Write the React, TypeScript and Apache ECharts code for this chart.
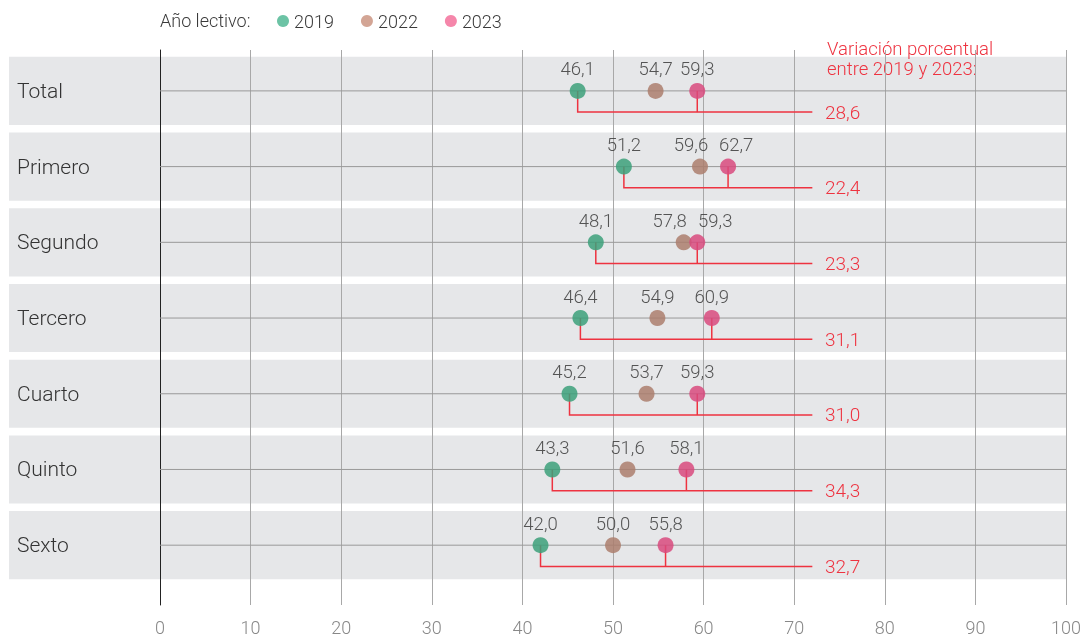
import React, { useEffect, useRef } from "react";
import * as echarts from "echarts";

const categories = ["Total", "Primero", "Segundo", "Tercero", "Cuarto", "Quinto", "Sexto"];
const values2019 = [46.1, 51.2, 48.1, 46.4, 45.2, 43.3, 42.0];
const values2022 = [54.7, 59.6, 57.8, 54.9, 53.7, 51.6, 50.0];
const values2023 = [59.3, 62.7, 59.3, 60.9, 59.3, 58.1, 55.8];
const variation = [28.6, 22.4, 23.3, 31.1, 31.0, 34.3, 32.7];
const xTicks = [0, 10, 20, 30, 40, 50, 60, 70, 80, 90, 100];
const connectorEnd = 72;
const variationLabelAt = 73.4;
// label nudges (px) to keep close labels apart, as in the reference
const nudge2022 = [0, -9, -14, 0, 0, 0, 0];
const nudge2023 = [0, 8, 18, 0, 0, 0, 0];

const FONT = "Roboto, 'Noto Sans', sans-serif";
const RED = "#ee3340";
const fmt = (v: number) => v.toFixed(1).replace(".", ",");

export default function App() {
  const ref = useRef<HTMLDivElement>(null);
  useEffect(() => {
    if (!ref.current) return;
    const chart = echarts.init(ref.current, null, { renderer: "svg" });

    const dotSeries = (name: string, vals: number[], color: string, nudges: number[]) => ({
      name,
      type: "scatter",
      z: 5,
      symbolSize: 16,
      itemStyle: { color, opacity: 0.85 },
      label: {
        show: true,
        position: "top",
        distance: 4,
        fontFamily: FONT,
        fontWeight: 300,
        fontSize: 18.5,
        color: "#3a3a3a",
        formatter: (p: any) => fmt(p.value[0]),
      },
      data: vals.map((v, i) => ({
        value: [v, i],
        label: { offset: [nudges[i], 0] },
      })),
    });

    chart.setOption({
      animation: false,
      textStyle: { fontFamily: FONT },
      grid: { left: 160, right: 16, top: 50, bottom: 31 },
      xAxis: {
        type: "value",
        min: 0,
        max: 100,
        interval: 10,
        axisLine: { show: false },
        axisTick: { show: false },
        splitLine: { show: true, lineStyle: { color: "#a8a8a8", width: 1 } },
        axisLabel: {
          margin: 13,
          fontSize: 18,
          fontWeight: 300,
          color: "#888",
          fontFamily: FONT,
          customValues: xTicks,
        },
      },
      yAxis: {
        type: "value",
        min: -0.54,
        max: 6.79,
        inverse: true,
        axisLine: { show: true, onZero: false, lineStyle: { color: "#222", width: 1 } },
        axisTick: { show: false },
        axisLabel: { show: false },
        splitLine: { show: false },
      },
      legend: {
        left: 272,
        top: 7,
        icon: "circle",
        itemWidth: 12,
        itemHeight: 12,
        itemGap: 27,
        textStyle: { fontSize: 18, color: "#3a3a3a", fontFamily: FONT, fontWeight: 300 },
        data: [
          { name: "2019", itemStyle: { color: "#6cc3a5", opacity: 1 } },
          { name: "2022", itemStyle: { color: "#d3a595", opacity: 1 } },
          { name: "2023", itemStyle: { color: "#f586aa", opacity: 1 } },
        ],
      },
      graphic: [
        {
          type: "text",
          left: 160,
          top: 11,
          style: {
            text: "Año lectivo:",
            fontSize: 18,
            fontFamily: FONT,
            fontWeight: 300,
            fill: "#3a3a3a",
          },
        },
        {
          type: "text",
          left: 827,
          top: 39,
          style: {
            text: "Variación porcentual\nentre 2019 y 2023:",
            fontSize: 18.5,
            lineHeight: 20,
            fontFamily: FONT,
            fontWeight: 300,
            fill: RED,
          },
        },
      ],
      series: [
        {
          type: "custom",
          name: "bands",
          z: -1,
          silent: true,
          clip: false,
          data: categories.map((c, i) => [i, c]),
          renderItem: (params: any, api: any) => {
            const i = api.value(0);
            const c = api.coord([0, i]);
            const r = api.coord([100, i]);
            const h = api.size([0, 1])[1];
            const bh = h * 0.9;
            return {
              type: "group",
              children: [
                {
                  type: "rect",
                  shape: { x: 9, y: c[1] - bh / 2, width: r[0] - 9, height: bh },
                  style: { fill: "#e6e7e9" },
                },
                {
                  type: "text",
                  x: 17,
                  y: c[1],
                  style: {
                    text: categories[i],
                    fontSize: 21,
                    fontFamily: FONT,
                    fontWeight: 300,
                    fill: "#333",
                    verticalAlign: "middle",
                    align: "left",
                  },
                },
              ],
            };
          },
        },
        {
          type: "custom",
          name: "rowlines",
          z: 1,
          silent: true,
          data: categories.map((c, i) => [i]),
          renderItem: (params: any, api: any) => {
            const i = api.value(0);
            const a = api.coord([0, i]);
            const b = api.coord([100, i]);
            return {
              type: "line",
              shape: { x1: a[0], y1: a[1], x2: b[0], y2: b[1] },
              style: { stroke: "#999", lineWidth: 1 },
            };
          },
        },
        {
          type: "custom",
          name: "connectors",
          z: 3,
          silent: true,
          clip: false,
          data: categories.map((c, i) => [i, values2019[i], values2023[i], variation[i]]),
          renderItem: (params: any, api: any) => {
            const i = api.value(0);
            const v19 = api.value(1);
            const v23 = api.value(2);
            const pct = api.value(3);
            const off = 0.28;
            const p0 = api.coord([v19, i]);
            const p1 = api.coord([v19, i + off]);
            const pe = api.coord([connectorEnd, i + off]);
            const q0 = api.coord([v23, i]);
            const q1 = api.coord([v23, i + off]);
            const lp = api.coord([variationLabelAt, i + off]);
            return {
              type: "group",
              children: [
                {
                  type: "polyline",
                  shape: { points: [p0, p1, pe] },
                  style: { stroke: RED, lineWidth: 1.5, fill: "none" },
                },
                {
                  type: "line",
                  shape: { x1: q0[0], y1: q0[1], x2: q1[0], y2: q1[1] },
                  style: { stroke: RED, lineWidth: 1.5 },
                },
                {
                  type: "text",
                  x: lp[0],
                  y: lp[1],
                  style: {
                    text: fmt(pct),
                    fontSize: 19,
                    fontFamily: FONT,
                    fontWeight: 300,
                    fill: RED,
                    verticalAlign: "middle",
                    align: "left",
                  },
                },
              ],
            };
          },
        },
        dotSeries("2019", values2019, "#3ca07a", Array(7).fill(0)),
        dotSeries("2022", values2022, "#ab7e6d", nudge2022),
        dotSeries("2023", values2023, "#d84a7e", nudge2023),
      ],
    });
    return () => chart.dispose();
  }, []);
  return (
    <div
      ref={ref}
      style={{ position: "fixed", left: 0, top: 0, width: 1084, height: 636 }}
    />
  );
}
